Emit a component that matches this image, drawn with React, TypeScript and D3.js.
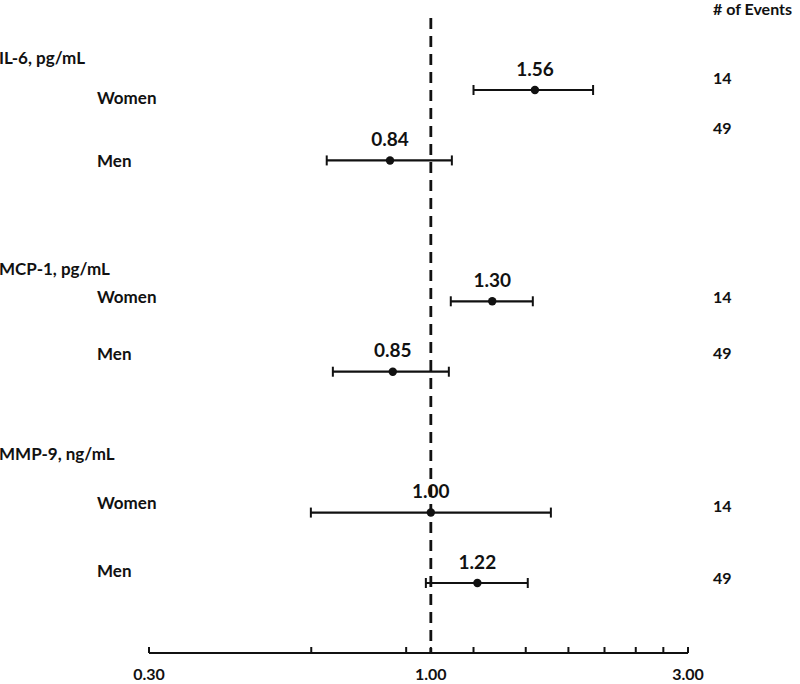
import React from "react";
import * as d3 from "d3";

// ---- data ----
const markers = ["IL-6, pg/mL", "MCP-1, pg/mL", "MMP-9, ng/mL"];
const sexes = ["Women", "Men"];
const estimates = [1.56, 0.84, 1.3, 0.85, 1.0, 1.22];
const lowerCI = [1.2, 0.641, 1.089, 0.658, 0.599, 0.979];
const upperCI = [2.0, 1.094, 1.546, 1.08, 1.67, 1.513];
const events = [14, 49, 14, 49, 14, 49];
const tickValues = [0.3, 0.6, 0.9, 1.0, 1.2, 1.5, 1.8, 2.1, 2.4, 2.7, 3.0];
const tickLabels = [0.3, 1.0, 3.0];

// ---- layout (positions only) ----
const W = 800;
const H = 684;
const rowSlots = [0, 1, 3, 4, 6, 7];
const headerY = [58, 269, 454];
const labelDy = [8, 1, -4, -18, -10, -12];
const eventDy = [-12, -32, -4, -18, -6, -5];
const FONT = "Lato, 'Open Sans', sans-serif";

export default function App() {
  const x = d3.scaleLog().domain([0.3, 3.0]).range([149, 688]);
  const y = d3.scaleLinear().domain([0, 7]).range([90, 583]);
  const axisY = 653;

  const rows = estimates.map((est, i) => ({
    est,
    lo: lowerCI[i],
    hi: upperCI[i],
    ev: events[i],
    sex: sexes[i % 2],
    yy: y(rowSlots[i]),
    i,
  }));

  return (
    <svg
      width={W}
      height={H}
      style={{ position: "absolute", left: 0, top: 0, background: "#fff" }}
      fontFamily={FONT}
      fontWeight="bold"
      fill="#111"
    >
      {/* reference line */}
      <line
        x1={x(1)}
        x2={x(1)}
        y1={18}
        y2={axisY}
        stroke="#111"
        strokeWidth={2.8}
        strokeDasharray="11,7"
      />

      {/* axis */}
      <line x1={x(0.3)} x2={x(3.0)} y1={axisY} y2={axisY} stroke="#111" strokeWidth={2} />
      {tickValues.map((t) => (
        <line key={t} x1={x(t)} x2={x(t)} y1={axisY} y2={axisY - 6} stroke="#111" strokeWidth={2} />
      ))}
      {tickLabels.map((t) => (
        <text key={t} x={x(t)} y={680} textAnchor="middle" fontSize={16}>
          {d3.format(".2f")(t)}
        </text>
      ))}

      {/* header */}
      <text x={713} y={15} fontSize={16}>
        # of Events
      </text>

      {markers.map((m, g) => (
        <text key={m} x={-1} y={headerY[g]} dy="0.35em" fontSize={17}>
          {m}
        </text>
      ))}

      {rows.map((r) => (
        <g key={r.i}>
          <text x={97} y={r.yy + labelDy[r.i]} dy="0.35em" fontSize={17}>
            {r.sex}
          </text>
          <line x1={x(r.lo)} x2={x(r.hi)} y1={r.yy} y2={r.yy} stroke="#111" strokeWidth={2.2} />
          <line x1={x(r.lo)} x2={x(r.lo)} y1={r.yy - 5} y2={r.yy + 5} stroke="#111" strokeWidth={2} />
          <line x1={x(r.hi)} x2={x(r.hi)} y1={r.yy - 5} y2={r.yy + 5} stroke="#111" strokeWidth={2} />
          <circle cx={x(r.est)} cy={r.yy} r={4.2} fill="#111" />
          <text x={x(r.est)} y={r.yy - 21} dy="0.35em" textAnchor="middle" fontSize={19}>
            {d3.format(".2f")(r.est)}
          </text>
          <text x={713} y={r.yy + eventDy[r.i]} dy="0.35em" fontSize={16}>
            {r.ev}
          </text>
        </g>
      ))}
    </svg>
  );
}
